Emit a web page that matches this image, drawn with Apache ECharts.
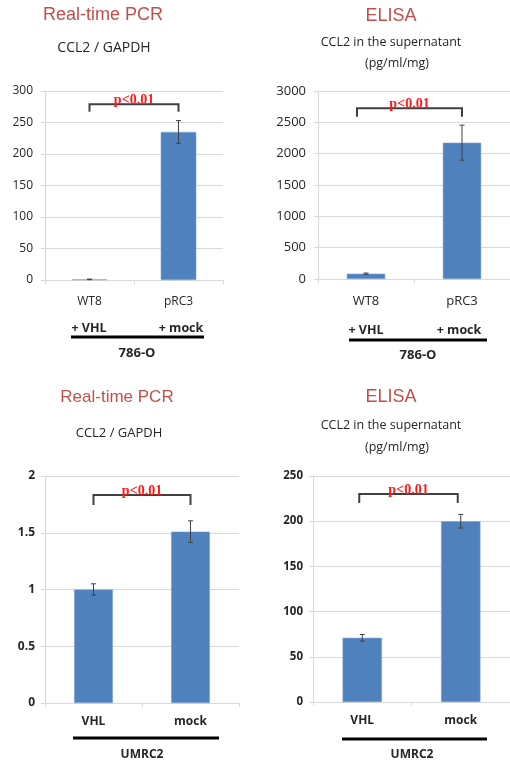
<!DOCTYPE html>
<html>
<head>
<meta charset="utf-8">
<script src="https://cdn.jsdelivr.net/npm/echarts@6/dist/echarts.min.js"></script>
<style>
html,body{margin:0;padding:0;background:#fff;}
#chart{width:510px;height:762px;}
</style>
</head>
<body>
<div id="chart"></div>
<script>
// ---- data ----
const cats786 = ['WT8', 'pRC3'];
const pcr786 = [1, 235];
const pcr786Err = [0.5, 18];
const elisa786 = [85, 2175];
const elisa786Err = [10, 280];

const catsUMRC2 = ['VHL', 'mock'];
const pcrUMRC2 = [1.0, 1.51];
const pcrUMRC2Err = [0.05, 0.095];
const elisaUMRC2 = [71, 200];
const elisaUMRC2Err = [3.6, 7.5];

const yMax = [300, 3000, 2, 250];
const yInterval = [50, 500, 0.5, 50];
const bracketTop = [279, 2724, 1.833, 230];
const bracketLeg = [267, 2590, 1.745, 220];
const pLabel = 'p<0.01';

const titles = ['Real-time PCR', 'ELISA', 'Real-time PCR', 'ELISA'];
const subtitlePCR = 'CCL2 / GAPDH';
const subtitleELISA1 = 'CCL2 in the supernatant';
const subtitleELISA2 = '(pg/ml/mg)';
const treat786 = ['+ VHL', '+ mock'];
const cellLine786 = '786-O';
const cellLineUMRC2 = 'UMRC2';

// ---- layout ----
const grids = [
  {left: 45, right: 287, top: 91, bottom: 482},
  {left: 318, right: -4, top: 91, bottom: 483},
  {left: 45, right: 271, top: 476, bottom: 59},
  {left: 313, right: -3, top: 476, bottom: 60}
];
const bracketShift = [[0, 0], [-9, 0], [0, 0], [-3, -3]];
const panels = [
  {cats: cats786, vals: pcr786, err: pcr786Err, bold: false, yfs: 12, xfs: 12, ym: 12, xm: 16},
  {cats: cats786, vals: elisa786, err: elisa786Err, bold: false, yfs: 13, xfs: 13, ym: 12, xm: 16},
  {cats: catsUMRC2, vals: pcrUMRC2, err: pcrUMRC2Err, bold: true, yfs: 12, xfs: 12, ym: 10, xm: 13},
  {cats: catsUMRC2, vals: elisaUMRC2, err: elisaUMRC2Err, bold: true, yfs: 11.5, xfs: 12, ym: 10, xm: 13}
];

const FONT = '"Open Sans", "Noto Sans", sans-serif';
const gridColor = '#d9d9d9';
const barColor = '#4f81bd';
const textColor = '#262626';

const xAxes = panels.map((p, i) => ({
  type: 'category', gridIndex: i, data: p.cats,
  axisLine: {lineStyle: {color: gridColor}},
  axisTick: {show: true, length: 4, lineStyle: {color: gridColor}},
  axisLabel: {color: textColor, fontFamily: FONT, fontSize: p.xfs,
    fontWeight: p.bold ? 'bold' : 'normal', margin: p.xm}
}));
const yAxes = panels.map((p, i) => ({
  type: 'value', gridIndex: i, min: 0, max: yMax[i], interval: yInterval[i],
  axisLine: {show: true, lineStyle: {color: gridColor}},
  axisTick: {show: true, length: 4, lineStyle: {color: gridColor}},
  splitLine: {lineStyle: {color: gridColor, width: 1}},
  axisLabel: {color: textColor, fontFamily: FONT, fontSize: p.yfs,
    fontWeight: p.bold ? 'bold' : 'normal', margin: p.ym,
    formatter: v => String(v)}
}));

const series = [];
panels.forEach((p, i) => {
  series.push({
    type: 'bar', xAxisIndex: i, yAxisIndex: i, data: p.vals,
    barWidth: '40%',
    itemStyle: {color: barColor, borderColor: '#7ea3d0', borderWidth: 0.6},
    silent: true
  });
  series.push({
    type: 'custom', xAxisIndex: i, yAxisIndex: i,
    data: p.vals.map((v, k) => [k, v - p.err[k], v + p.err[k]]),
    renderItem: function (params, api) {
      const lo = api.coord([api.value(0), api.value(1)]);
      const hi = api.coord([api.value(0), api.value(2)]);
      const c = 2.5;
      const st = {stroke: '#404040', lineWidth: 1};
      return {type: 'group', children: [
        {type: 'line', shape: {x1: hi[0], y1: hi[1], x2: lo[0], y2: lo[1]}, style: st},
        {type: 'line', shape: {x1: hi[0] - c, y1: hi[1], x2: hi[0] + c, y2: hi[1]}, style: st},
        {type: 'line', shape: {x1: lo[0] - c, y1: lo[1], x2: lo[0] + c, y2: lo[1]}, style: st}
      ]};
    },
    z: 5, silent: true
  });
  const sh = bracketShift[i];
  series.push({
    type: 'custom', xAxisIndex: i, yAxisIndex: i,
    data: [[0, 1, bracketTop[i], bracketLeg[i]]],
    renderItem: function (params, api) {
      const a = api.coord([api.value(0), api.value(2)]);
      const b = api.coord([api.value(1), api.value(2)]);
      const aL = api.coord([api.value(0), api.value(3)]);
      const bL = api.coord([api.value(1), api.value(3)]);
      const ax = a[0] + sh[0], bx = b[0] + sh[1];
      return {type: 'group', children: [
        {type: 'polyline', shape: {points: [[ax, aL[1]], [ax, a[1]], [bx, b[1]], [bx, bL[1]]]},
          style: {stroke: '#404040', lineWidth: 2, fill: null}},
        {type: 'text', x: (ax + bx) / 2, y: a[1] + 3,
          style: {text: pLabel, fill: '#ff1a1a', font: 'bold 14px "Liberation Serif", serif',
            textAlign: 'center', textVerticalAlign: 'bottom', align: 'center', verticalAlign: 'bottom'}}
      ]};
    },
    z: 6, silent: true, clip: false
  });
});

function txt(text, x, y, font, fill) {
  return {type: 'text', x: x, y: y, silent: true,
    style: {text: text, font: font, fill: fill || textColor,
      textAlign: 'center', textVerticalAlign: 'middle', align: 'center', verticalAlign: 'middle'}};
}
function hline(x1, x2, y) {
  return {type: 'line', silent: true, shape: {x1: x1, y1: y, x2: x2, y2: y},
    style: {stroke: '#000', lineWidth: 3}};
}
const red = '#c0504d';
const titleFont = s => s + 'px "Liberation Sans", Arial, sans-serif';
const graphic = [
  // top-left
  txt(titles[0], 103, 15, titleFont(18), red),
  txt(subtitlePCR, 104, 48, '14px ' + FONT),
  txt(treat786[0], 89, 328, 'bold 12.5px ' + FONT),
  txt(treat786[1], 181, 328, 'bold 12.5px ' + FONT),
  hline(71, 204, 337),
  txt(cellLine786, 137, 353, 'bold 13px ' + FONT),
  // top-right
  txt(titles[1], 391, 16, titleFont(18), red),
  txt(subtitleELISA1, 391, 42, '12.5px ' + FONT),
  txt(subtitleELISA2, 397, 63, '12.5px ' + FONT),
  txt(treat786[0], 366, 330, 'bold 12.5px ' + FONT),
  txt(treat786[1], 459, 330, 'bold 12.5px ' + FONT),
  hline(349, 487, 340),
  txt(cellLine786, 418, 355, 'bold 13px ' + FONT),
  // bottom-left
  txt(titles[2], 117, 397, titleFont(17), red),
  txt(subtitlePCR, 119, 433, '13px ' + FONT),
  hline(73, 219, 738),
  txt(cellLineUMRC2, 142, 755, 'bold 12px ' + FONT),
  // bottom-right
  txt(titles[3], 391, 397, titleFont(18), red),
  txt(subtitleELISA1, 391, 425, '12.5px ' + FONT),
  txt(subtitleELISA2, 397, 447, '12.5px ' + FONT),
  hline(342, 487, 739),
  txt(cellLineUMRC2, 412, 755, 'bold 12px ' + FONT)
];

const chart = echarts.init(document.getElementById('chart'), null, {renderer: 'canvas'});
chart.setOption({
  animation: false,
  backgroundColor: '#fff',
  grid: grids,
  xAxis: xAxes,
  yAxis: yAxes,
  series: series,
  graphic: graphic
});
</script>
</body>
</html>
